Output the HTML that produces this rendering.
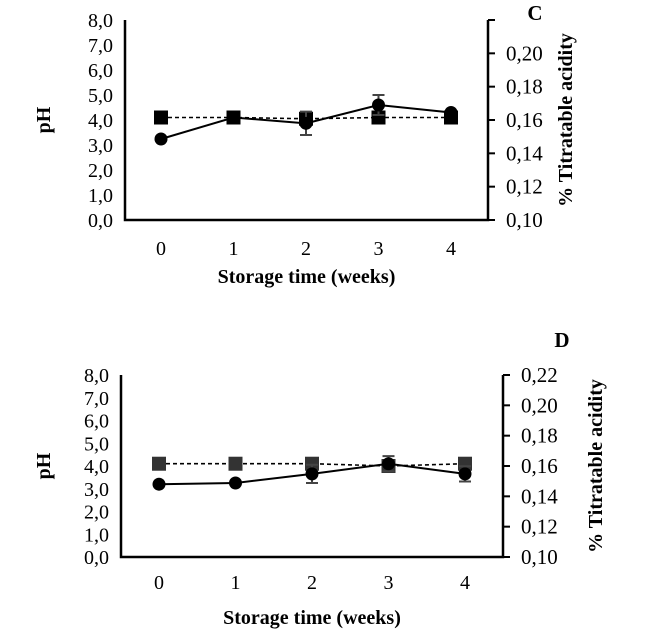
<!DOCTYPE html>
<html><head><meta charset="utf-8"><style>
body{margin:0;background:#fff}
svg text{font-family:"Liberation Serif",serif;fill:#000}
</style></head><body>
<svg id="s" width="650" height="634"></svg>
<script>
const weeks=[0,1,2,3,4];
const phTicks=["0,0","1,0","2,0","3,0","4,0","5,0","6,0","7,0","8,0"];
const taTicksC=["0,10","0,12","0,14","0,16","0,18","0,20",""];
const taTicksD=["0,10","0,12","0,14","0,16","0,18","0,20","0,22"];
const phC=[4.1,4.1,4.05,4.1,4.1];
const phErrC=[0.05,0.05,0.15,0.1,0.05];
const taC=[0.1486,0.1615,0.158,0.169,0.1645];
const taErrC=[0.001,0.001,0.007,0.006,0.001];
const phD=[4.1,4.1,4.1,4.0,4.1];
const phErrD=[0.1,0.1,0.15,0.15,0.1];
const taD=[0.148,0.1488,0.1548,0.1615,0.1548];
const taErrD=[0.001,0.001,0.006,0.005,0.005];
const NS="http://www.w3.org/2000/svg",svg=document.getElementById('s');
function mk(t,a,p){const e=document.createElementNS(NS,t);for(const k in a)e.setAttribute(k,a[k]);(p||svg).appendChild(e);return e;}
function panel(c){
 const g=mk('g',{});
 
 
 const yl=v=>c.bot-(v/8)*(c.bot-c.top);
 const yr=v=>c.bot-((v-0.10)/0.12)*(c.bot-c.top);
 const x=w=>c.x0+w*c.dx;
 const ax=mk('path',{d:`M${c.l},${c.top}V${c.bot}H${c.r}V${c.top}`,fill:'none',stroke:'#000','stroke-width':2.5},g);
 
 phTicks.forEach((t,i)=>{const y=yl(i);const e=mk('text',{x:c.l-12,y:y+7,'text-anchor':'end','font-size':20},g);e.textContent=t;
  });
 c.taT.forEach((t,i)=>{const v=0.10+i*0.02,y=yr(v);mk('line',{x1:c.r,x2:c.r+7,y1:y,y2:y,stroke:'#000','stroke-width':2},g);
  const e=mk('text',{x:c.r+18,y:y+7,'font-size':21},g);e.textContent=t;
  });
 weeks.forEach(w=>{const e=mk('text',{x:x(w),y:c.xly,'text-anchor':'middle','font-size':20},g);e.textContent=w;
  });
 let e=mk('text',{x:(c.l+c.r)/2,y:c.xty,'text-anchor':'middle','font-size':20,'font-weight':'bold'},g);e.textContent='Storage time (weeks)';
 
 e=mk('text',{x:0,y:0,'text-anchor':'middle','font-size':20,'font-weight':'bold',transform:`translate(${c.phx},${(c.top+c.bot)/2}) rotate(-90)`},g);e.textContent='pH';
 
 e=mk('text',{x:0,y:0,'text-anchor':'middle','font-size':20,'font-weight':'bold',transform:`translate(${c.tax},${(c.top+c.bot)/2}) rotate(-90)`},g);e.textContent='% Titratable acidity';
 
 e=mk('text',{x:c.lx,y:c.ly,'text-anchor':'middle','font-size':21,'font-weight':'bold'},g);e.textContent=c.letter;
 
 e=mk('polyline',{points:weeks.map((w,i)=>x(w)+','+yl(c.ph[i])).join(' '),fill:'none',stroke:'#000','stroke-width':1.6,'stroke-dasharray':'4,3'},g);
 
 weeks.forEach((w,i)=>{const y1=yl(c.ph[i]+c.phE[i]),y2=yl(c.ph[i]-c.phE[i]);
  mk('path',{d:`M${x(w)},${y1}V${y2}M${x(w)-6},${y1}h12M${x(w)-6},${y2}h12`,stroke:'#444','stroke-width':2},g);
  const s=mk('rect',{x:x(w)-7,y:yl(c.ph[i])-7,width:14,height:14,fill:c.sqf},g);
  });
 e=mk('polyline',{points:weeks.map((w,i)=>x(w)+','+yr(c.ta[i])).join(' '),fill:'none',stroke:'#000','stroke-width':2},g);
 
 weeks.forEach((w,i)=>{const y1=yr(c.ta[i]+c.taE[i]),y2=yr(c.ta[i]-c.taE[i]);
  mk('path',{d:`M${x(w)},${y1}V${y2}M${x(w)-6},${y1}h12M${x(w)-6},${y2}h12`,stroke:'#444','stroke-width':2},g);
  const p=mk('circle',{cx:x(w),cy:yr(c.ta[i]),r:6.5,fill:'#000'},g);
  });
}
panel({letter:'C',l:125,r:488,top:20,bot:220,x0:161,dx:72.5,xly:255,xty:283,phx:50,tax:572,lx:535,ly:20,taT:taTicksC,ph:phC,phE:phErrC,ta:taC,taE:taErrC,sqf:'#000'});
panel({letter:'D',l:121,r:503,top:375,bot:557,x0:159,dx:76.5,xly:589,xty:624,phx:50,tax:602,lx:562,ly:347,taT:taTicksD,ph:phD,phE:phErrD,ta:taD,taE:taErrD,sqf:'#333'});
</script>
</body></html>
